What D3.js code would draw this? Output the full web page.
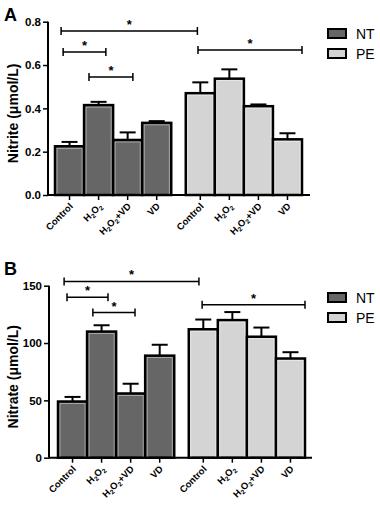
<!DOCTYPE html>
<html>
<head>
<meta charset="utf-8">
<script src="https://cdn.jsdelivr.net/npm/d3@7"></script>
<style>
  body { margin: 0; background: #fff; }
  svg { font-family: Arial, "Liberation Sans", sans-serif; }
</style>
</head>
<body>
<div id="chart"></div>
<script>
// groups and conditions
const groups = ["NT", "PE"];
const conditions = ["Control", "H2O2", "H2O2+VD", "VD"];

// panel A: nitrite (umol/L)
const nitriteNT = [0.225, 0.415, 0.254, 0.333];
const nitriteNTErr = [0.02, 0.015, 0.035, 0.008];
const nitritePE = [0.47, 0.537, 0.41, 0.257];
const nitritePEErr = [0.05, 0.043, 0.008, 0.028];
const nitriteTicks = [0, 0.2, 0.4, 0.6, 0.8];

// panel B: nitrate (umol/L)
const nitrateNT = [49, 110, 56, 89];
const nitrateNTErr = [4, 5.5, 8.5, 9.5];
const nitratePE = [112, 120, 105.5, 86.5];
const nitratePEErr = [8.5, 7, 8, 5.5];
const nitrateTicks = [0, 50, 100, 150];

// significance brackets: [from position, to position, height in data units]
const bracketsA = [[0.21, 4.9, 0.757], [0.28, 1.75, 0.66], [1.17, 2.68, 0.545], [4.92, 8.5, 0.669]];
const bracketsB = [[0.21, 4.85, 153.7], [0.31, 1.72, 140], [1.2, 2.65, 126.6], [4.96, 8.5, 133.3]];

const colors = {NT: "#666666", PE: "#d4d4d4"};

const svg = d3.select("#chart").append("svg")
    .attr("width", 380)
    .attr("height", 513);

function drawPanel(opts) {
    let g = svg.append("g");

    // bar slots: NT at 0..4, PE at 4.5..8.5
    let x = d3.scaleLinear().domain([0, 8.5]).range([opts.x0, opts.x1]);
    let y = d3.scaleLinear().domain(opts.domain).range([opts.yBase, opts.yTop]);

    let bars = [];
    conditions.forEach((c, i) => {
        bars.push({group: "NT", cond: c, pos: i, value: opts.nt[i], err: opts.ntErr[i]});
    });
    conditions.forEach((c, i) => {
        bars.push({group: "PE", cond: c, pos: 4.5 + i, value: opts.pe[i], err: opts.peErr[i]});
    });

    // error bars (drawn first so bar outline covers the stem base)
    let eb = g.selectAll(".err").data(bars).enter().append("g").attr("class", "err");
    eb.append("line")
        .attr("x1", d => x(d.pos + 0.5)).attr("x2", d => x(d.pos + 0.5))
        .attr("y1", d => y(d.value)).attr("y2", d => y(d.value + d.err))
        .attr("stroke", "#000").attr("stroke-width", 2);
    eb.append("line")
        .attr("x1", d => x(d.pos + 0.5) - 8).attr("x2", d => x(d.pos + 0.5) + 8)
        .attr("y1", d => y(d.value + d.err)).attr("y2", d => y(d.value + d.err))
        .attr("stroke", "#000").attr("stroke-width", 2);

    g.selectAll(".bar").data(bars).enter().append("rect")
        .attr("class", "bar")
        .attr("x", d => x(d.pos))
        .attr("y", d => y(d.value))
        .attr("width", d => x(d.pos + 1) - x(d.pos))
        .attr("height", d => y(0) - y(d.value))
        .attr("fill", d => colors[d.group])
        .attr("stroke", "#000")
        .attr("stroke-width", 2.5);

    // thin light inner edge
    g.selectAll(".inner").data(bars).enter().append("rect")
        .attr("class", "inner")
        .attr("x", d => x(d.pos) + 2)
        .attr("y", d => y(d.value) + 2)
        .attr("width", d => x(d.pos + 1) - x(d.pos) - 4)
        .attr("height", d => Math.max(0, y(0) - y(d.value) - 2))
        .attr("fill", "none")
        .attr("stroke", "#fff")
        .attr("stroke-opacity", 0.6)
        .attr("stroke-width", 0.7);

    // y axis
    let yAxis = g.append("g")
        .attr("transform", `translate(${opts.yAxisX},0)`)
        .call(d3.axisLeft(y).tickValues(opts.ticks).tickSize(5).tickPadding(2).tickFormat(opts.fmt));
    yAxis.select(".domain").attr("stroke-width", 2).attr("d", `M0,${y(0)}V${y(opts.domain[1])}`);
    yAxis.selectAll(".tick line").attr("stroke-width", 1.5);
    yAxis.selectAll(".tick text")
        .attr("fill", "#000")
        .attr("font-size", "11.5px")
        .attr("font-weight", "bold")
        .attr("font-family", "Arial, 'Liberation Sans', sans-serif");

    // x axis line
    g.append("line")
        .attr("x1", opts.yAxisX).attr("x2", opts.xAxisEnd)
        .attr("y1", y(0)).attr("y2", y(0))
        .attr("stroke", "#000").attr("stroke-width", 2);

    // x ticks
    g.selectAll(".xt").data(bars).enter().append("line")
        .attr("class", "xt")
        .attr("x1", d => x(d.pos + 0.5)).attr("x2", d => x(d.pos + 0.5))
        .attr("y1", y(0)).attr("y2", y(0) + 5)
        .attr("stroke", "#000").attr("stroke-width", 1.5);

    // rotated x labels, anchored at their right end just below each tick
    let lbl = g.selectAll(".xl").data(bars).enter().append("text")
        .attr("class", "xl")
        .attr("transform", d => `translate(${x(d.pos + 0.5) + 4},${y(0) + 12}) rotate(-45)`)
        .attr("text-anchor", "end")
        .attr("font-size", "9.5px")
        .attr("font-weight", "bold");
    lbl.each(function(d) {
        let t = d3.select(this);
        if (d.cond === "Control" || d.cond === "VD") {
            t.text(d.cond);
        } else {
            t.append("tspan").text("H");
            t.append("tspan").text("2").attr("font-size", "6.5px").attr("dy", 2);
            t.append("tspan").text("O").attr("dy", -2);
            t.append("tspan").text("2").attr("font-size", "6.5px").attr("dy", 2);
            if (d.cond === "H2O2+VD") t.append("tspan").text("+VD").attr("dy", -2);
        }
    });

    // y label
    g.append("text")
        .attr("transform", `translate(${opts.yLabelX},${(y(0) + y(opts.domain[1])) / 2 + 5}) rotate(-90)`)
        .attr("text-anchor", "middle")
        .attr("font-size", "14px")
        .attr("font-weight", "bold")
        .text(opts.yLabel);

    // significance brackets
    let br = g.selectAll(".br").data(opts.brackets).enter().append("g");
    br.append("path")
        .attr("d", d => `M${x(d[0])},${y(d[2]) - 4}V${y(d[2]) + 4}M${x(d[0])},${y(d[2])}H${x(d[1])}M${x(d[1])},${y(d[2]) - 4}V${y(d[2]) + 4}`)
        .attr("stroke", "#000").attr("stroke-width", 1.5).attr("fill", "none");
    br.append("text")
        .attr("x", d => (x(d[0]) + x(d[1])) / 2)
        .attr("y", d => y(d[2]) - 2)
        .attr("text-anchor", "middle")
        .attr("font-size", "13px")
        .attr("font-weight", "bold")
        .text("*");

    // panel letter
    g.append("text")
        .attr("x", 4).attr("y", opts.letterY)
        .attr("font-size", "18px").attr("font-weight", "bold")
        .text(opts.letter);

    // legend
    let lg = g.selectAll(".lg").data(groups).enter().append("g")
        .attr("transform", (d, i) => `translate(328,${opts.legendY + i * 20})`);
    lg.append("rect")
        .attr("width", 18).attr("height", 9)
        .attr("fill", d => colors[d]).attr("stroke", "#000").attr("stroke-width", 2);
    lg.append("text")
        .attr("x", 28).attr("y", 10)
        .attr("font-size", "14px")
        .text(d => d);
}

drawPanel({
    letter: "A", letterY: 21,
    x0: 55, x1: 302, yAxisX: 48, xAxisEnd: 310,
    yBase: 195, yTop: 21.7, domain: [0, 0.8], ticks: nitriteTicks, fmt: d3.format(".1f"),
    nt: nitriteNT, ntErr: nitriteNTErr, pe: nitritePE, peErr: nitritePEErr,
    yLabel: "Nitrite (\u03bcmol/L)", yLabelX: 18,
    brackets: bracketsA, legendY: 29
});

drawPanel({
    letter: "B", letterY: 275,
    x0: 58, x1: 305, yAxisX: 49, xAxisEnd: 312,
    yBase: 457.7, yTop: 285.7, domain: [0, 150], ticks: nitrateTicks, fmt: d3.format("d"),
    nt: nitrateNT, ntErr: nitrateNTErr, pe: nitratePE, peErr: nitratePEErr,
    yLabel: "Nitrate (\u03bcmol/L)", yLabelX: 18,
    brackets: bracketsB, legendY: 293
});
</script>
</body>
</html>
